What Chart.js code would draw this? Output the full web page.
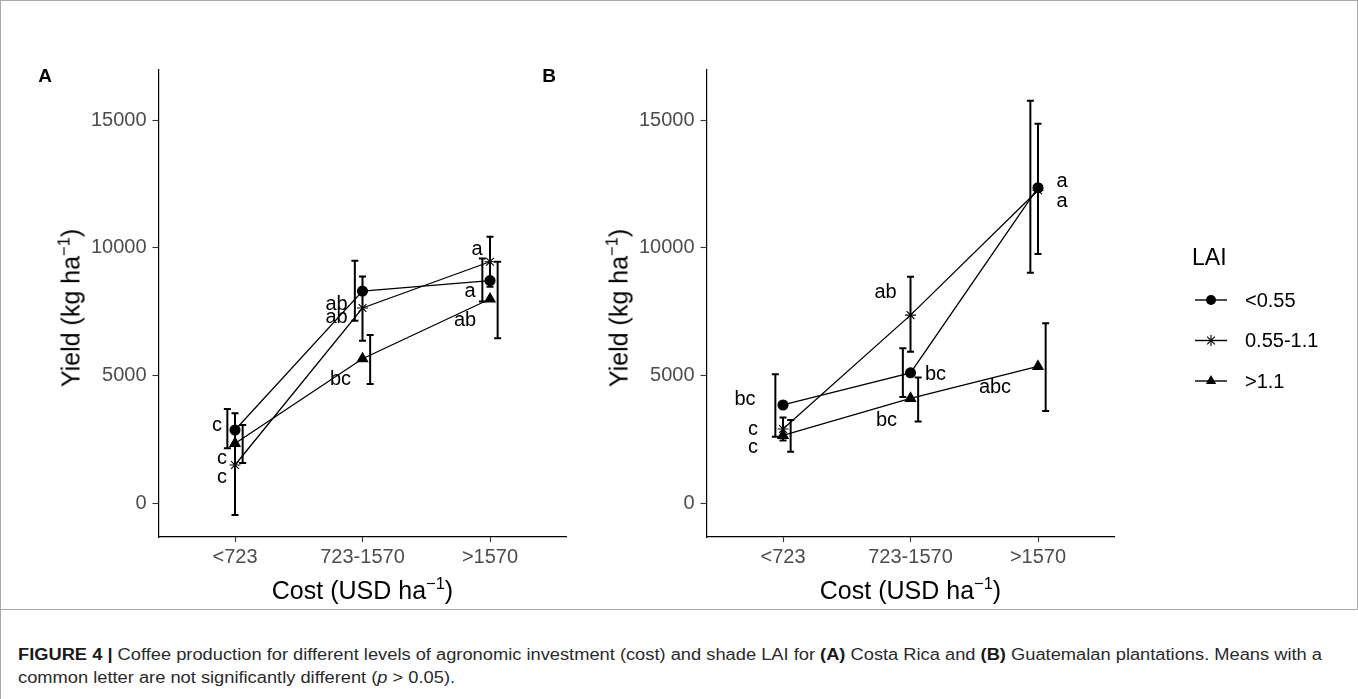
<!DOCTYPE html>
<html>
<head>
<meta charset="utf-8">
<script src="https://cdn.jsdelivr.net/npm/chart.js@4.4.1/dist/chart.umd.min.js"></script>
<style>
html,body{margin:0;padding:0;background:#fff;}
body{width:1358px;height:699px;position:relative;overflow:hidden;font-family:"Liberation Sans",Arial,Helvetica,sans-serif;}
#frameTop{position:absolute;left:0;top:0;width:1356px;height:608px;border:1px solid #a8a8a8;}
#frameLeft{position:absolute;left:0;top:609px;width:1px;height:90px;background:#a8a8a8;}
canvas{position:absolute;top:0;}
#cA{left:0;}
#cB{left:600px;}
.plab{position:absolute;font-weight:bold;font-size:19px;color:#000;transform:translate(-50%,-50%);}
.ytitle{position:absolute;font-size:25px;color:#000;white-space:nowrap;transform:translate(-50%,-50%) rotate(-90deg);}
.xtitle{position:absolute;font-size:25px;color:#000;white-space:nowrap;transform:translate(-50%,-50%);}
sup.s{font-size:0.66em;line-height:0;vertical-align:0.6em;}
#caption{position:absolute;left:18px;top:643px;font-size:16px;line-height:23px;color:#2a2a2a;white-space:nowrap;transform-origin:0 0;}
#caption b{color:#1a1a1a;}
</style>
</head>
<body>
<div id="frameTop"></div>
<div id="frameLeft"></div>
<canvas id="cA" width="600" height="609" style="width:600px;height:609px"></canvas>
<canvas id="cB" width="758" height="609" style="width:758px;height:609px"></canvas>
<div class="plab" style="left:45px;top:76px">A</div>
<div class="plab" style="left:549px;top:76px">B</div>
<div class="ytitle" id="yA">Yield (kg ha<sup class="s">−1</sup>)</div>
<div class="ytitle" id="yB">Yield (kg ha<sup class="s">−1</sup>)</div>
<div class="xtitle" id="xA">Cost (USD ha<sup class="s">−1</sup>)</div>
<div class="xtitle" id="xB">Cost (USD ha<sup class="s">−1</sup>)</div>
<div id="caption"><span id="cap1"><b>FIGURE 4 |</b> Coffee production for different levels of agronomic investment (cost) and shade LAI for <b>(A)</b> Costa Rica and <b>(B)</b> Guatemalan plantations. Means with a</span><br><span id="cap2">common letter are not significantly different (<i>p</i> &gt; 0.05).</span></div>
<script>
// ---------------- data ----------------
const categories = ['<723', '723-1570', '>1570'];
const groups = ['<0.55', '0.55-1.1', '>1.1'];
const yTickValues = [0, 5000, 10000, 15000];

// Panel A – Costa Rica
const A_mean_low  = [2860, 8300, 8710];
const A_lo_low    = [2150, 7140, 7890];
const A_hi_low    = [3680, 9490, 9580];
const A_mean_mid  = [1490, 7640, 9450];
const A_lo_mid    = [-470, 6360, 8470];
const A_hi_mid    = [3520, 8870, 10430];
const A_mean_high = [2330, 5650, 7990];
const A_lo_high   = [1570, 4660, 6450];
const A_hi_high   = [3060, 6580, 9450];
const A_let_low   = ['c', 'ab', 'a'];
const A_let_mid   = ['c', 'ab', 'a'];
const A_let_high  = ['c', 'bc', 'ab'];

// Panel B – Guatemala
const B_mean_low  = [3840, 5100, 12350];
const B_lo_low    = [2600, 4150, 9020];
const B_hi_low    = [5040, 6060, 15760];
const B_mean_mid  = [2900, 7360, 12250];
const B_lo_mid    = [2450, 5930, 9750];
const B_hi_mid    = [3350, 8860, 14850];
const B_mean_high = [2650, 4100, 5350];
const B_lo_high   = [2010, 3190, 3600];
const B_hi_high   = [3250, 4920, 7040];
const B_let_low   = ['bc', 'bc', 'a'];
const B_let_mid   = ['c', 'ab', 'a'];
const B_let_high  = ['c', 'bc', 'abc'];

// ---------------- styling ----------------
const FONT = '"Liberation Sans", Arial, Helvetica, sans-serif';
const markerStyles = ['circle', 'star', 'triangle'];
const markerRadius = [5, 5.5, 6];
const dodge = [-0.06, 0, 0.06];
const Y_MIN = -1330, Y_MAX = 16960;
const TOP = 70, BOTTOM = 537, CANVAS_H = 609;

// label offsets in px (dx, dy) relative to each point
const A_offsets = [
  [[-18, -5], [-26, 13], [-20, 11]],
  [[-13, 12], [-26, 10], [-13, -12]],
  [[-13, 15], [-22, 21], [-25, 21]]
];
const B_offsets = [
  [[-38, -6], [25, 2], [24, -6]],
  [[-30, 0], [-25, -23], [24, 11]],
  [[-30, 12], [-24, 22], [-43, 21]]
];

function drawMarker(ctx, style, x, y, r) {
  ctx.save();
  ctx.fillStyle = '#000'; ctx.strokeStyle = '#000'; ctx.lineWidth = 1.1;
  ctx.beginPath();
  if (style === 'circle') {
    ctx.arc(x, y, r, 0, Math.PI * 2); ctx.fill();
  } else if (style === 'star') {
    for (let k = 0; k < 4; k++) {
      const a = k * Math.PI / 4;
      ctx.moveTo(x - Math.cos(a) * r, y - Math.sin(a) * r);
      ctx.lineTo(x + Math.cos(a) * r, y + Math.sin(a) * r);
    }
    ctx.stroke();
  } else {
    const s = Math.sin(Math.PI * 2 / 3) * r;
    ctx.moveTo(x, y - r); ctx.lineTo(x + s, y + r / 2); ctx.lineTo(x - s, y + r / 2);
    ctx.closePath(); ctx.fill();
  }
  ctx.restore();
}

function makePanel(canvasId, means, los, his, letters, offsets, canvasLeft, plotLeft, plotRight, canvasW, withLegend) {
  const errPlugin = {
    id: 'errbars' + canvasId,
    beforeDatasetsDraw(chart) {
      const {ctx} = chart; const x = chart.scales.x, y = chart.scales.y;
      ctx.save();
      ctx.strokeStyle = '#000'; ctx.lineWidth = 2; ctx.lineCap = 'butt';
      const cap = 7;
      los.forEach((lo, gi) => {
        lo.forEach((v, j) => {
          const px = x.getPixelForValue(j + dodge[gi]);
          const y1 = y.getPixelForValue(v), y2 = y.getPixelForValue(his[gi][j]);
          ctx.beginPath();
          ctx.moveTo(px, y1); ctx.lineTo(px, y2);
          ctx.moveTo(px - cap / 2, y1); ctx.lineTo(px + cap / 2, y1);
          ctx.moveTo(px - cap / 2, y2); ctx.lineTo(px + cap / 2, y2);
          ctx.stroke();
        });
      });
      ctx.restore();
    },
    afterDatasetsDraw(chart) {
      const {ctx} = chart; const x = chart.scales.x, y = chart.scales.y;
      ctx.save();
      ctx.fillStyle = '#000';
      ctx.font = '20px ' + FONT;
      ctx.textAlign = 'center'; ctx.textBaseline = 'middle';
      letters.forEach((arr, gi) => {
        arr.forEach((t, j) => {
          const px = x.getPixelForValue(j) + offsets[gi][j][0];
          const py = y.getPixelForValue(means[gi][j]) + offsets[gi][j][1];
          ctx.fillText(t, px, py);
        });
      });
      if (withLegend) {
        const ox = -canvasLeft;
        ctx.textAlign = 'left';
        ctx.font = '23px ' + FONT;
        ctx.fillText('LAI', 1192 + ox, 259);
        ctx.font = '20px ' + FONT;
        groups.forEach((g, k) => {
          const ly = 300 + k * 40.5;
          ctx.beginPath();
          ctx.strokeStyle = '#000'; ctx.lineWidth = 1.4;
          ctx.moveTo(1195 + ox, ly); ctx.lineTo(1227 + ox, ly); ctx.stroke();
          drawMarker(ctx, markerStyles[k], 1211 + ox, ly, markerRadius[k]);
          ctx.fillStyle = '#000';
          ctx.fillText(g, 1245 + ox, ly + 1);
        });
      }
      ctx.restore();
    }
  };

  const datasets = means.map((m, gi) => ({
    label: groups[gi],
    data: m.map((v, i) => ({x: i, y: v})),
    borderColor: '#000',
    borderWidth: 1.3,
    tension: 0,
    fill: false,
    pointStyle: markerStyles[gi],
    pointRadius: markerRadius[gi],
    pointHoverRadius: markerRadius[gi],
    pointBackgroundColor: '#000',
    pointBorderColor: '#000',
    pointBorderWidth: 1.1
  }));

  return new Chart(document.getElementById(canvasId), {
    type: 'line',
    data: {datasets},
    options: {
      responsive: false,
      devicePixelRatio: 1,
      animation: false,
      events: [],
      layout: {padding: {left: 0, top: TOP, right: canvasW - (plotRight - canvasLeft), bottom: 0}},
      plugins: {legend: {display: false}, tooltip: {enabled: false}},
      scales: {
        x: {
          type: 'linear', min: -0.6, max: 2.6,
          afterBuildTicks: s => { s.ticks = categories.map((c, i) => ({value: i})); },
          afterFit: s => { s.height = CANVAS_H - BOTTOM; },
          ticks: {callback: v => categories[v], color: '#4d4d4d', font: {size: 20, family: FONT}, padding: 3, autoSkip: false, maxRotation: 0},
          grid: {display: true, drawOnChartArea: false, drawTicks: true, tickLength: 5, tickColor: '#333', tickWidth: 1.1},
          border: {display: true, color: '#000', width: 1.2}
        },
        y: {
          type: 'linear', min: Y_MIN, max: Y_MAX,
          afterBuildTicks: s => { s.ticks = yTickValues.map(v => ({value: v})); },
          afterFit: s => { s.width = plotLeft - canvasLeft; },
          ticks: {callback: v => String(v), color: '#4d4d4d', font: {size: 20, family: FONT}, padding: 6},
          grid: {display: true, drawOnChartArea: false, drawTicks: true, tickLength: 6, tickColor: '#333', tickWidth: 1.1},
          border: {display: true, color: '#000', width: 1.2}
        }
      }
    },
    plugins: [errPlugin]
  });
}

const chartA = makePanel('cA',
  [A_mean_low, A_mean_mid, A_mean_high],
  [A_lo_low, A_lo_mid, A_lo_high],
  [A_hi_low, A_hi_mid, A_hi_high],
  [A_let_low, A_let_mid, A_let_high],
  A_offsets, 0, 158.5, 566.5, 600, false);

const chartB = makePanel('cB',
  [B_mean_low, B_mean_mid, B_mean_high],
  [B_lo_low, B_lo_mid, B_lo_high],
  [B_hi_low, B_hi_mid, B_hi_high],
  [B_let_low, B_let_mid, B_let_high],
  B_offsets, 600, 706.5, 1114.5, 758, true);

// axis titles positioned from chart areas
function placeTitles(chart, left, yId, xId) {
  const a = chart.chartArea;
  const yEl = document.getElementById(yId), xEl = document.getElementById(xId);
  yEl.style.left = (left + a.left - 88) + 'px';
  yEl.style.top = ((a.top + a.bottom) / 2 + 4) + 'px';
  xEl.style.left = (left + (a.left + a.right) / 2) + 'px';
  xEl.style.top = '590px';
}
placeTitles(chartA, 0, 'yA', 'xA');
placeTitles(chartB, 600, 'yB', 'xB');

// caption width fit
(function fitCaption() {
  const cap = document.getElementById('caption');
  const w = document.getElementById('cap1').getBoundingClientRect().width;
  const target = 1304;
  cap.style.transform = 'scaleX(' + (target / w) + ')';
})();
</script>
</body>
</html>
